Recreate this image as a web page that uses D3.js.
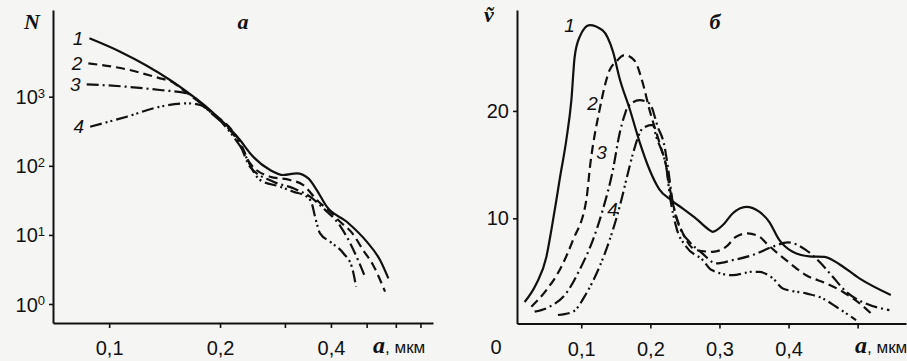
<!DOCTYPE html>
<html>
<head>
<meta charset="utf-8">
<script src="https://cdn.jsdelivr.net/npm/d3@7"></script>
<style>
  body { margin: 0; background: #f5f5f4; }
  svg { display: block; }
  .tick text { font-family: "Liberation Sans", Arial, sans-serif; font-size: 20px; fill: #111; }
  .lbl { font-family: "Liberation Sans", Arial, sans-serif; font-style: italic; font-size: 19px; fill: #111; }
  .sym { font-family: "Liberation Serif", "DejaVu Serif", serif; font-style: italic; font-weight: bold; fill: #111; }
</style>
</head>
<body>
<svg width="907" height="361"></svg>
<script>
// ---- data: panel a (log N vs log a) ----
const aLeft1 = [0.0884, 0.1071, 0.1463, 0.1624, 0.1879, 0.2266, 0.2412, 0.2735, 0.2972, 0.323, 0.3473, 0.3661, 0.3897, 0.4416, 0.5003, 0.5436, 0.5727];
const nLeft1 = [7000, 4480, 1745, 1182, 642, 236, 152, 87, 73.6, 77.8, 65.9, 44.6, 25.6, 15.5, 7.98, 4.33, 2.35];
const aLeft2 = [0.0878, 0.1116, 0.1375, 0.1463, 0.1624, 0.1879, 0.2266, 0.2412, 0.2735, 0.3098, 0.3366, 0.3661, 0.3978, 0.4235, 0.4564, 0.4889, 0.5204, 0.561];
const nLeft2 = [3040, 2490, 1846, 1688, 1140, 620, 220, 109, 69.5, 62.3, 52.7, 32, 21.7, 15.5, 10.7, 6.04, 3.67, 1.51];
const aLeft3 = [0.0869, 0.1116, 0.1375, 0.1624, 0.1879, 0.2266, 0.2412, 0.2792, 0.3162, 0.351, 0.3815, 0.4235, 0.4508, 0.4738, 0.495];
const nLeft3 = [1512, 1396, 1250, 1119, 600, 200, 97, 58.9, 47.2, 35.7, 24.3, 13.5, 7.64, 4.33, 2.48];
const aLeft4 = [0.0888, 0.1116, 0.1375, 0.1624, 0.1765, 0.1879, 0.2266, 0.2569, 0.2911, 0.3162, 0.3439, 0.3548, 0.3622, 0.3737, 0.3978, 0.4323, 0.4556, 0.468];
const nLeft4 = [368, 514, 717, 803, 759, 610, 194, 62.3, 49.9, 42.2, 35.7, 28.7, 18.3, 10.5, 7.98, 5.42, 3.47, 1.78];

// ---- data: panel б (v vs a) ----
const aRight1 = [0.018, 0.035, 0.0495, 0.0567, 0.064, 0.0687, 0.0784, 0.0857, 0.0904, 0.0977, 0.112, 0.131, 0.146, 0.1556, 0.17, 0.1845, 0.199, 0.213, 0.23, 0.247, 0.2665, 0.2856, 0.29, 0.305, 0.319, 0.3387, 0.358, 0.372, 0.3868, 0.406, 0.43, 0.452, 0.474, 0.5025, 0.548];
const vRight1 = [2.2, 3.9, 6.4, 8.9, 11.7, 13.6, 17.3, 21.0, 25.0, 26.9, 28.0, 27.5, 25.5, 23.0, 20.2, 17.1, 14.5, 12.7, 11.7, 10.9, 9.95, 8.9, 8.74, 9.37, 10.45, 11.07, 10.6, 9.67, 7.97, 6.88, 6.45, 6.4, 5.7, 4.4, 2.85];
const aRight2 = [0.0278, 0.0495, 0.0687, 0.088, 0.1073, 0.113, 0.1265, 0.141, 0.1507, 0.1627, 0.177, 0.189, 0.1988, 0.2133, 0.223, 0.2278, 0.235, 0.247, 0.2663, 0.29, 0.3098, 0.324, 0.341, 0.358, 0.368, 0.3965, 0.4254, 0.4544, 0.4784, 0.5025, 0.5218];
const vRight2 = [1.76, 3.31, 5.18, 7.97, 11.7, 15.0, 20.1, 23.8, 24.6, 25.2, 24.7, 22.6, 20.1, 17.0, 14.8, 12.9, 10.76, 8.6, 7.04, 6.88, 7.35, 8.28, 8.6, 8.28, 7.66, 6.1, 4.7, 3.94, 3.16, 2.1, 0.99];
const aRight3 = [0.0325, 0.054, 0.078, 0.0976, 0.1168, 0.131, 0.1458, 0.1555, 0.1627, 0.1675, 0.1844, 0.1988, 0.2108, 0.2205, 0.2253, 0.2326, 0.2422, 0.2567, 0.274, 0.2953, 0.319, 0.348, 0.377, 0.399, 0.4254, 0.4447, 0.464, 0.4833, 0.507, 0.546];
const vRight3 = [1.3, 1.76, 3.0, 5.2, 7.97, 10.76, 14.5, 17.9, 19.6, 20.4, 21.0, 20.7, 18.5, 16.7, 14.8, 11.4, 9.2, 7.8, 6.8, 5.8, 6.1, 6.57, 7.35, 7.75, 7.04, 5.95, 4.55, 3.16, 2.2, 1.45];
const aRight4 = [0.0662, 0.088, 0.1073, 0.1265, 0.141, 0.1555, 0.1675, 0.1747, 0.1844, 0.189, 0.2036, 0.2085, 0.218, 0.223, 0.2278, 0.2374, 0.252, 0.276, 0.288, 0.319, 0.348, 0.358, 0.3774, 0.3916, 0.4254, 0.4495, 0.4688, 0.4977];
const vRight4 = [0.99, 1.3, 3.0, 5.5, 7.97, 11.07, 14.2, 16.0, 17.9, 18.4, 18.7, 17.6, 16.0, 14.8, 12.3, 9.2, 7.35, 6.1, 5.2, 4.7, 5.02, 5.0, 4.4, 3.47, 3.0, 2.54, 1.76, 0.52];

// tick values
const xTicksLeft = [0.1, 0.2, 0.3, 0.4, 0.5, 0.6, 0.7];
const xLabelsLeft = [0.1, 0.2, 0.4];
const yTicksLeft = [1, 10, 100, 1000];
const yExpLeft = ["0", "1", "2", "3"];
const xTicksRight = [0.1, 0.2, 0.3, 0.4, 0.5];
const xLabelsRight = [0.1, 0.2, 0.3, 0.4];
const yTicksRight = [10, 20];

// curve labels on panel б (data units)
const rightLabelA = [0.083, 0.1165, 0.1295, 0.1454];
const rightLabelV = [28.0, 20.7, 16.1, 10.8];

const names = ["1", "2", "3", "4"];
const dashes = [null, "9,5", "12,4,2,4", "12,4,2,3,2,4"];

const svg = d3.select("svg");

// scales
const xL = d3.scaleLog().domain([0.0704, 0.757]).range([53, 433]);
const yL = d3.scaleLog().domain([0.531, 17990]).range([323, 10]);
const xR = d3.scaleLinear().domain([0.007, 0.57]).range([517, 906]);
const yR = d3.scaleLinear().domain([0.2, 29.4]).range([323.5, 10]);

const fmt = d => String(d).replace(".", ",");

// ---- panel a axes ----
const gxL = svg.append("g")
    .attr("transform", "translate(0," + yL.range()[0] + ")")
    .call(d3.axisBottom(xL).tickValues(xTicksLeft).tickSize(5).tickSizeOuter(0)
        .tickFormat(d => xLabelsLeft.includes(d) ? fmt(d) : ""));
const gyL = svg.append("g")
    .attr("transform", "translate(" + xL.range()[0] + ",0)")
    .call(d3.axisLeft(yL).tickValues(yTicksLeft).tickSize(4).tickSizeOuter(0).tickFormat(""));

// 10^k labels
gyL.selectAll(".tick").each(function (d, i) {
    const t = d3.select(this).append("text")
        .attr("x", -8).attr("dy", "0.35em").attr("text-anchor", "end");
    t.append("tspan").text("10");
    t.append("tspan").attr("dy", "-0.5em").attr("font-size", "13px").text(yExpLeft[i]);
});

// ---- panel б axes ----
const gxR = svg.append("g")
    .attr("transform", "translate(0," + yR.range()[0] + ")")
    .call(d3.axisBottom(xR).tickValues(xTicksRight).tickSize(5).tickSizeOuter(0)
        .tickFormat(d => xLabelsRight.includes(d) ? fmt(d) : ""));
const gyR = svg.append("g")
    .attr("transform", "translate(" + xR.range()[0] + ",0)")
    .call(d3.axisLeft(yR).tickValues(yTicksRight).tickSize(4).tickSizeOuter(0));
gyR.selectAll(".tick text").attr("x", -8);

[gxL, gyL, gxR, gyR].forEach(g => {
    g.select(".domain").attr("stroke", "#111").attr("stroke-width", 2);
    g.selectAll(".tick line").attr("stroke", "#111").attr("stroke-width", 1.6);
});
[gxL, gxR].forEach(g => g.selectAll(".tick text").attr("dy", "1.2em"));

// origin "0"
svg.append("text").attr("class", "lbl").style("font-style", "normal").style("font-size", "20px")
    .attr("x", xR(0) - 16).attr("y", yR.range()[0] + 30)
    .attr("text-anchor", "middle").text("0");

// ---- curves ----
const lineL = d3.line().x(d => xL(d[0])).y(d => yL(d[1])).curve(d3.curveMonotoneX);
const lineR = d3.line().x(d => xR(d[0])).y(d => yR(d[1])).curve(d3.curveMonotoneX);

const leftSeries = [[aLeft1, nLeft1], [aLeft2, nLeft2], [aLeft3, nLeft3], [aLeft4, nLeft4]]
    .map(([a, n]) => a.map((v, i) => [v, n[i]]));
const rightSeries = [[aRight1, vRight1], [aRight2, vRight2], [aRight3, vRight3], [aRight4, vRight4]]
    .map(([a, v]) => a.map((x, i) => [x, v[i]]));

leftSeries.forEach((s, i) => {
    svg.append("path").datum(s).attr("d", lineL)
        .attr("fill", "none").attr("stroke", "#111").attr("stroke-width", 2.2)
        .attr("stroke-dasharray", dashes[i]);
    svg.append("text").attr("class", "lbl")
        .attr("x", xL(s[0][0]) - 6).attr("y", yL(s[0][1]))
        .attr("dy", "0.35em").attr("text-anchor", "end").text(names[i]);
});

rightSeries.forEach((s, i) => {
    svg.append("path").datum(s).attr("d", lineR)
        .attr("fill", "none").attr("stroke", "#111").attr("stroke-width", 2.2)
        .attr("stroke-dasharray", dashes[i]);
    svg.append("text").attr("class", "lbl")
        .attr("x", xR(rightLabelA[i])).attr("y", yR(rightLabelV[i]))
        .attr("dy", "0.35em").attr("text-anchor", "middle").text(names[i]);
});

// ---- axis titles and panel letters ----
svg.append("text").attr("class", "sym").attr("font-size", 22)
    .attr("x", 32).attr("y", 29).attr("text-anchor", "middle").text("N");
svg.append("text").attr("class", "sym").attr("font-size", 22)
    .attr("x", 243).attr("y", 29).attr("text-anchor", "middle").text("a");
svg.append("text").attr("class", "sym").attr("font-size", 22)
    .attr("x", 715).attr("y", 29).attr("text-anchor", "middle").text("б");
svg.append("text").attr("class", "sym").attr("font-size", 22)
    .attr("x", 489).attr("y", 22).attr("text-anchor", "middle").text("ṽ");

function unitLabel(x) {
    const t = svg.append("text").attr("x", x).attr("y", 353);
    t.append("tspan").attr("class", "sym").attr("font-size", 24).text("a");
    t.append("tspan").attr("font-family", "Liberation Sans, Arial, sans-serif")
        .attr("font-size", 17).attr("fill", "#111").text(", мкм");
}
unitLabel(373);
unitLabel(855);
</script>
</body>
</html>
